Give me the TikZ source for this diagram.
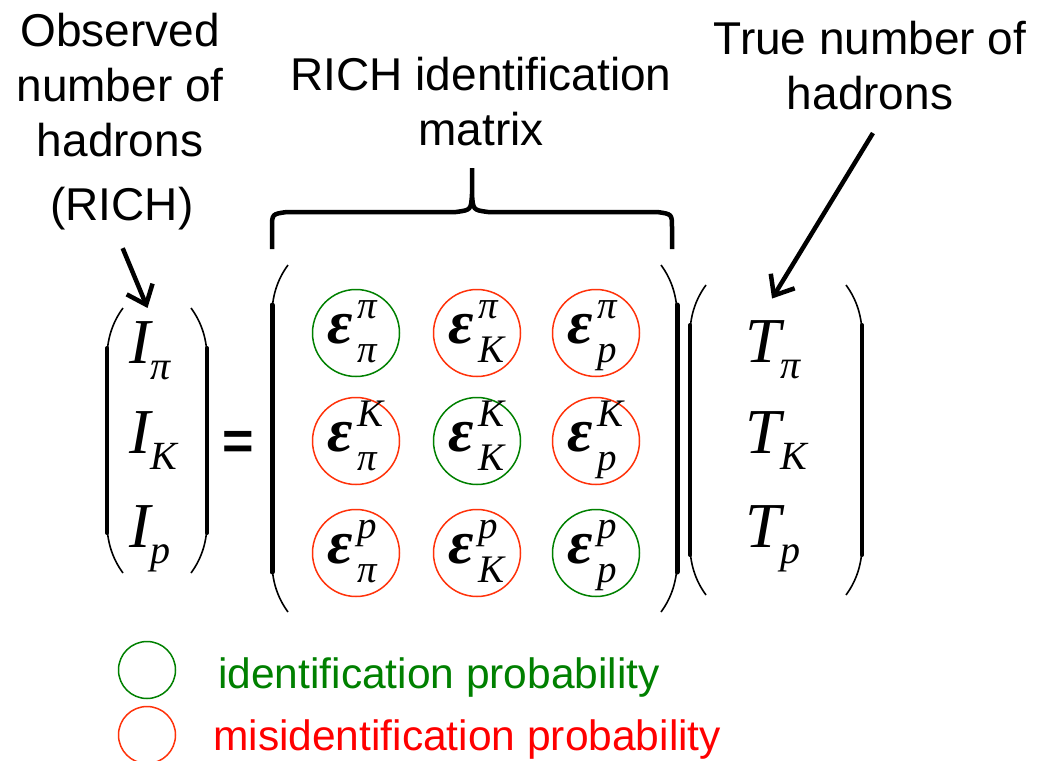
\documentclass[tikz,border=0pt]{standalone}
\usepackage{fontspec}
\setmainfont{Liberation Sans}
\newfontfamily\symserif{Liberation Serif}
\usetikzlibrary{arrows.meta}
\definecolor{idgreen}{RGB}{0,128,0}
\definecolor{misred}{RGB}{255,50,10}
\definecolor{textred}{RGB}{255,0,0}

% vector entry: letter with subscript
\newcommand{\vent}[2]{{\symserif\itshape\fontsize{64}{64}\selectfont #1\raisebox{-16pt}{\fontsize{40}{40}\selectfont #2}}}
% matrix entry: epsilon with super- and subscript
\newcommand{\eff}[2]{{\symserif\itshape{\bfseries\fontsize{62}{62}\selectfont ε}\kern5pt\rlap{\raisebox{25pt}{\fontsize{39}{39}\selectfont #1}}\raisebox{-19pt}{\fontsize{39}{39}\selectfont #2}}}
% round brackets: x of the stem, top y, bottom y, stem width
\newcommand{\bowleft}[4]{%
  \draw[bow] (#1+16,#2) .. controls (#1+5,#2+15) and (#1,#2+32) .. (#1,#2+50) -- (#1,#3-50) .. controls (#1,#3-32) and (#1+5,#3-15) .. (#1+16,#3);
  \draw[line width=#4, line cap=round] (#1,#2+40) -- (#1,#3-40);}
\newcommand{\bowright}[4]{%
  \draw[bow] (#1-16,#2) .. controls (#1-5,#2+15) and (#1,#2+32) .. (#1,#2+50) -- (#1,#3-50) .. controls (#1,#3-32) and (#1-5,#3-15) .. (#1-16,#3);
  \draw[line width=#4, line cap=round] (#1,#2+40) -- (#1,#3-40);}

\begin{document}
\begin{tikzpicture}[
    x=1pt, y=-1pt,
    note/.style={inner sep=0, align=center, font=\fontsize{46}{55}\selectfont},
    legtext/.style={inner sep=0, anchor=base west, font=\fontsize{42.5}{50}\selectfont},
    vecent/.style={inner sep=0, anchor=base west},
    cell/.style={circle, minimum size=87pt, inner sep=0, line width=1.5pt},
    legdot/.style={circle, minimum size=57pt, inner sep=0, line width=1.5pt},
    bow/.style={line width=1.6pt},
    brace/.style={line width=4.5pt},
    pointer/.style={line width=4.5pt, -{Straight Barb[length=17pt,width=28pt]}}
]
\useasboundingbox (0,0) rectangle (1059,760);

% labels
\node[note, anchor=south] (obs) at (120,157) {Observed\\number of\\hadrons};
\node[note, anchor=base] (rich) at (122,220) {(RICH)};
\node[note, anchor=south] (mat) at (481,146) {RICH identification\\matrix};
\node[note, anchor=south] (tru) at (870,110) {True number of\\hadrons};

% observed vector
\node[vecent] (I1) at (129,363) {\vent{I}{π}};
\node[vecent] (I2) at (129,453) {\vent{I}{K}};
\node[vecent] (I3) at (129,547) {\vent{I}{p}};
\bowleft{107}{308}{573}{4pt}
\bowright{207}{308}{573}{4pt}

\node[font=\fontsize{54}{54}\selectfont\bfseries] (eq) at (238,445) {=};

% identification matrix
\foreach \r/\rowp/\y in {1/π/333,2/K/441,3/p/553}
  \foreach \c/\colp/\x in {1/π/356,2/K/477,3/p/596}{
    \ifnum\r=\c \def\ring{idgreen}\else\def\ring{misred}\fi
    \node[cell, draw=\ring] (e\r\c) at (\x,\y) {};
    \node[vecent] at ([xshift=-29pt,yshift=-10pt]e\r\c.center) {\eff{\rowp}{\colp}};
  }
\bowleft{272}{265}{612}{5pt}
\bowright{677}{265}{612}{5pt}

% brace over the matrix
\draw[brace] (272,249) -- (272,228) .. controls (272,214) .. (287,212) -- (456,212) .. controls (471,210) .. (472,194) -- (472,168)
  (472,194) .. controls (473,210) .. (488,212) -- (657,212) .. controls (672,214) .. (672,228) -- (672,249);

% true vector
\node[vecent] (T1) at (745,362) {\vent{T}{π}};
\node[vecent] (T2) at (745,453) {\vent{T}{K}};
\node[vecent] (T3) at (745,547) {\vent{T}{p}};
\bowleft{690}{285}{595}{4pt}
\bowright{862}{285}{595}{4pt}

% pointers
\draw[pointer, shorten <=20pt, shorten >=14pt] ([xshift=-7pt]rich.south) -- ([xshift=3pt]I1.north);
\draw[pointer, shorten <=27pt, shorten >=25pt] ([xshift=17pt]tru.south) -- ([xshift=-14pt]T1.north);

% legend
\node[legdot, draw=idgreen] (lid) at (147,670) {};
\node[legtext, text=idgreen] (lidtext) at (218,688) {identification probability};
\node[legdot, draw=misred] (lmis) at (147,735) {};
\node[legtext, text=textred] (lmistext) at (213,750) {misidentification probability};
\end{tikzpicture}
\end{document}
